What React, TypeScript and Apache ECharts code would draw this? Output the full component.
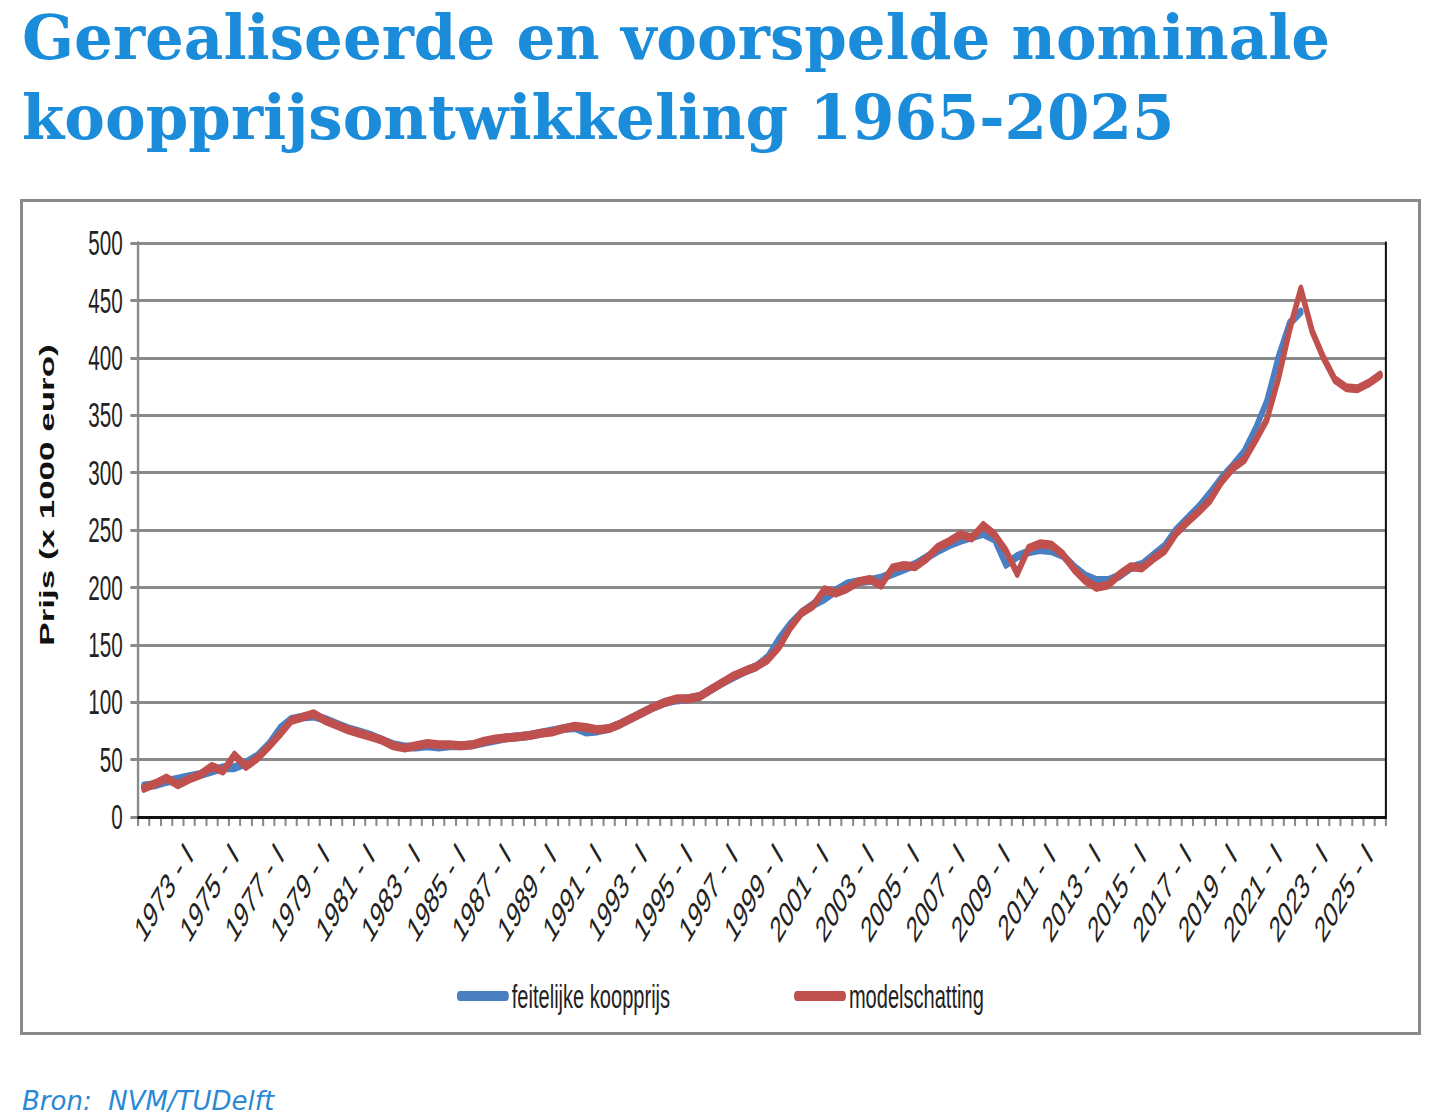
import React, { useEffect, useRef } from "react";
import * as echarts from "echarts";

// ---- Data (half-yearly, 1971-I .. 2025-II) ----
const firstYear = 1971;
const lastYear = 2025;
const categories: string[] = [];
for (let y = firstYear; y <= lastYear; y++) {
  categories.push(`${y} - I`);
  categories.push(`${y} - II`);
}

// feitelijke koopprijs (x 1000 euro), 1971-I .. 2022-I
const actualPrice: (number | null)[] = [
  27, 28, 31, 33, 35, 37, 40, 43, 43, 47,
  53, 63, 77, 85, 87, 88, 85, 81, 77, 74,
  71, 67, 63, 61, 61, 62, 61, 62, 62, 63,
  65, 67, 69, 70, 71, 73, 75, 77, 78, 74,
  75, 77, 81, 86, 91, 96, 100, 102, 103, 105,
  111, 117, 122, 127, 131, 139, 155, 168, 178, 185,
  190, 197, 203, 205, 206, 208, 212, 216, 220, 226,
  232, 237, 241, 244, 247, 242, 220, 227, 231, 233,
  232, 228, 218, 210, 206, 206, 210, 217, 220, 228,
  236, 250, 260, 270, 282, 295, 306, 318, 338, 362,
  400, 430, 440, null, null, null, null, null, null, null,
];

// modelschatting (x 1000 euro), 1971-I .. 2025-II
const modelEstimate: number[] = [
  25, 29, 34, 28, 33, 37, 44, 40, 54, 44,
  51, 61, 72, 84, 87, 90, 84, 80, 76, 73,
  70, 67, 62, 60, 62, 64, 63, 63, 62, 63,
  66, 68, 69, 70, 71, 73, 74, 77, 79, 78,
  76, 77, 81, 86, 91, 96, 100, 103, 103, 105,
  111, 117, 123, 127, 131, 137, 148, 165, 178, 184,
  198, 195, 199, 205, 207, 202, 217, 219, 218, 225,
  235, 240, 246, 243, 254, 246, 232, 212, 234, 238,
  237, 229, 216, 206, 200, 202, 211, 218, 217, 225,
  232, 247, 257, 266, 276, 292, 304, 311, 328, 346,
  381, 424, 460, 423, 400, 381, 374, 373, 378, 385,
];

const seriesNames = ["feitelijke koopprijs", "modelschatting"];
const titleLines = ["Gerealiseerde en voorspelde nominale", "koopprijsontwikkeling 1965-2025"];
const sourceText = "Bron:\u00a0\u00a0NVM/TUDelft";
const yAxisTitle = "Prijs (x 1000 euro)";
const yMin = 0;
const yMax = 500;
const yStep = 50;

// horizontal compression of the chart box (the reference is non-uniformly scaled)
const K = 0.59;
const BOX_W = 1395;
const BOX_H = 830;
const EC_W = Math.round(BOX_W / K);

const FONT = '"Liberation Sans", Arial, sans-serif';
const capsule = "path://M5,0 L83,0 A5,5 0 0 1 83,10 L5,10 A5,5 0 0 1 5,0 Z";

export default function App() {
  const pageRef = useRef<HTMLDivElement>(null);
  const chartRef = useRef<HTMLDivElement>(null);

  useEffect(() => {
    const page = echarts.init(pageRef.current!, undefined, { renderer: "svg" });
    page.setOption({
      animation: false,
      backgroundColor: "#ffffff",
      graphic: [
        {
          type: "text",
          x: 22,
          y: 37,
          style: {
            text: titleLines[0],
            font: 'bold 61px "DejaVu Serif", serif',
            fill: "#1b8cd9",
            align: "left",
            verticalAlign: "middle",
          },
        },
        {
          type: "text",
          x: 22,
          y: 117,
          style: {
            text: titleLines[1],
            font: 'bold 61px "DejaVu Serif", serif',
            fill: "#1b8cd9",
            align: "left",
            verticalAlign: "middle",
          },
        },
        {
          type: "rect",
          shape: { x: 21.5, y: 200.5, width: 1398, height: 833 },
          style: { fill: "#ffffff", stroke: "#8a8a8a", lineWidth: 3 },
        },
        {
          type: "text",
          x: 22,
          y: 1101,
          style: {
            text: sourceText,
            font: 'italic 26px "DejaVu Sans", sans-serif',
            fill: "#2a88d6",
            align: "left",
            verticalAlign: "middle",
          },
        },
      ],
    });

    const chart = echarts.init(chartRef.current!, undefined, { renderer: "svg" });
    chart.setOption({
      animation: false,
      backgroundColor: "transparent",
      textStyle: { fontFamily: FONT },
      grid: { left: 195, right: 54, top: 41, bottom: 215, containLabel: false },
      legend: {
        left: "center",
        top: 772,
        itemWidth: 88,
        itemHeight: 10,
        itemGap: 210,
        textStyle: { fontSize: 34, color: "#222", fontFamily: FONT },
        data: [
          { name: seriesNames[0], icon: capsule },
          { name: seriesNames[1], icon: capsule },
        ],
      },
      xAxis: [
        {
          type: "category",
          data: categories,
          boundaryGap: true,
          axisLine: { show: true, lineStyle: { color: "#8a8a8a", width: 3 } },
          axisTick: {
            show: true,
            interval: 0,
            length: 9,
            lineStyle: { color: "#8a8a8a", width: 3.5 },
          },
          axisLabel: {
            interval: (idx: number) => idx >= 4 && idx % 4 === 0,
            rotate: 45,
            margin: 32,
            fontSize: 36,
            color: "#222",
            fontFamily: FONT,
          },
          splitLine: { show: false },
          z: 3,
        },
        {
          type: "category",
          data: categories,
          position: "top",
          boundaryGap: true,
          axisLine: { show: true, lineStyle: { color: "#111", width: 3 } },
          axisTick: { show: false },
          axisLabel: { show: false },
          splitLine: { show: false },
          z: 4,
        },
      ],
      yAxis: [
        {
          type: "value",
          min: yMin,
          max: yMax,
          interval: yStep,
          axisLine: { show: true, lineStyle: { color: "#8a8a8a", width: 4 } },
          axisTick: { show: true, length: 13, lineStyle: { color: "#8a8a8a", width: 3 } },
          axisLabel: { margin: 26, fontSize: 35, color: "#222", fontFamily: FONT },
          splitLine: { show: true, lineStyle: { color: "#8a8a8a", width: 3 } },
          z: 3,
        },
        {
          type: "value",
          min: yMin,
          max: yMax,
          interval: yStep,
          position: "right",
          axisLine: { show: true, lineStyle: { color: "#111", width: 3.5 } },
          axisTick: { show: false },
          axisLabel: { show: false },
          splitLine: { show: false },
          z: 4,
        },
      ],
      graphic: [
        {
          type: "text",
          x: 41,
          y: 293,
          rotation: Math.PI / 2,
          style: {
            text: yAxisTitle,
            font: `bold 35px ${FONT}`,
            fill: "#111",
            align: "center",
            verticalAlign: "middle",
            textAlign: "center",
            textVerticalAlign: "middle",
          },
        },
      ],
      series: [
        {
          name: seriesNames[0],
          type: "line",
          data: actualPrice,
          xAxisIndex: 0,
          yAxisIndex: 0,
          symbol: "none",
          color: "#4a7fc1",
          lineStyle: { width: 9, color: "#4a7fc1", join: "round", cap: "round" },
          z: 5,
        },
        {
          name: seriesNames[1],
          type: "line",
          data: modelEstimate,
          xAxisIndex: 0,
          yAxisIndex: 0,
          symbol: "none",
          color: "#c0504d",
          lineStyle: { width: 9, color: "#c0504d", join: "round", cap: "round" },
          z: 6,
        },
      ],
    });

    return () => {
      chart.dispose();
      page.dispose();
    };
  }, []);

  return (
    <div
      style={{
        position: "absolute",
        left: 0,
        top: 0,
        width: 1440,
        height: 1118,
        overflow: "hidden",
        background: "#fff",
      }}
    >
      <div ref={pageRef} style={{ position: "absolute", left: 0, top: 0, width: 1440, height: 1118 }} />
      <div
        ref={chartRef}
        style={{
          position: "absolute",
          left: 23,
          top: 202,
          width: EC_W,
          height: BOX_H,
          transform: `scaleX(${K})`,
          transformOrigin: "0 0",
        }}
      />
    </div>
  );
}
